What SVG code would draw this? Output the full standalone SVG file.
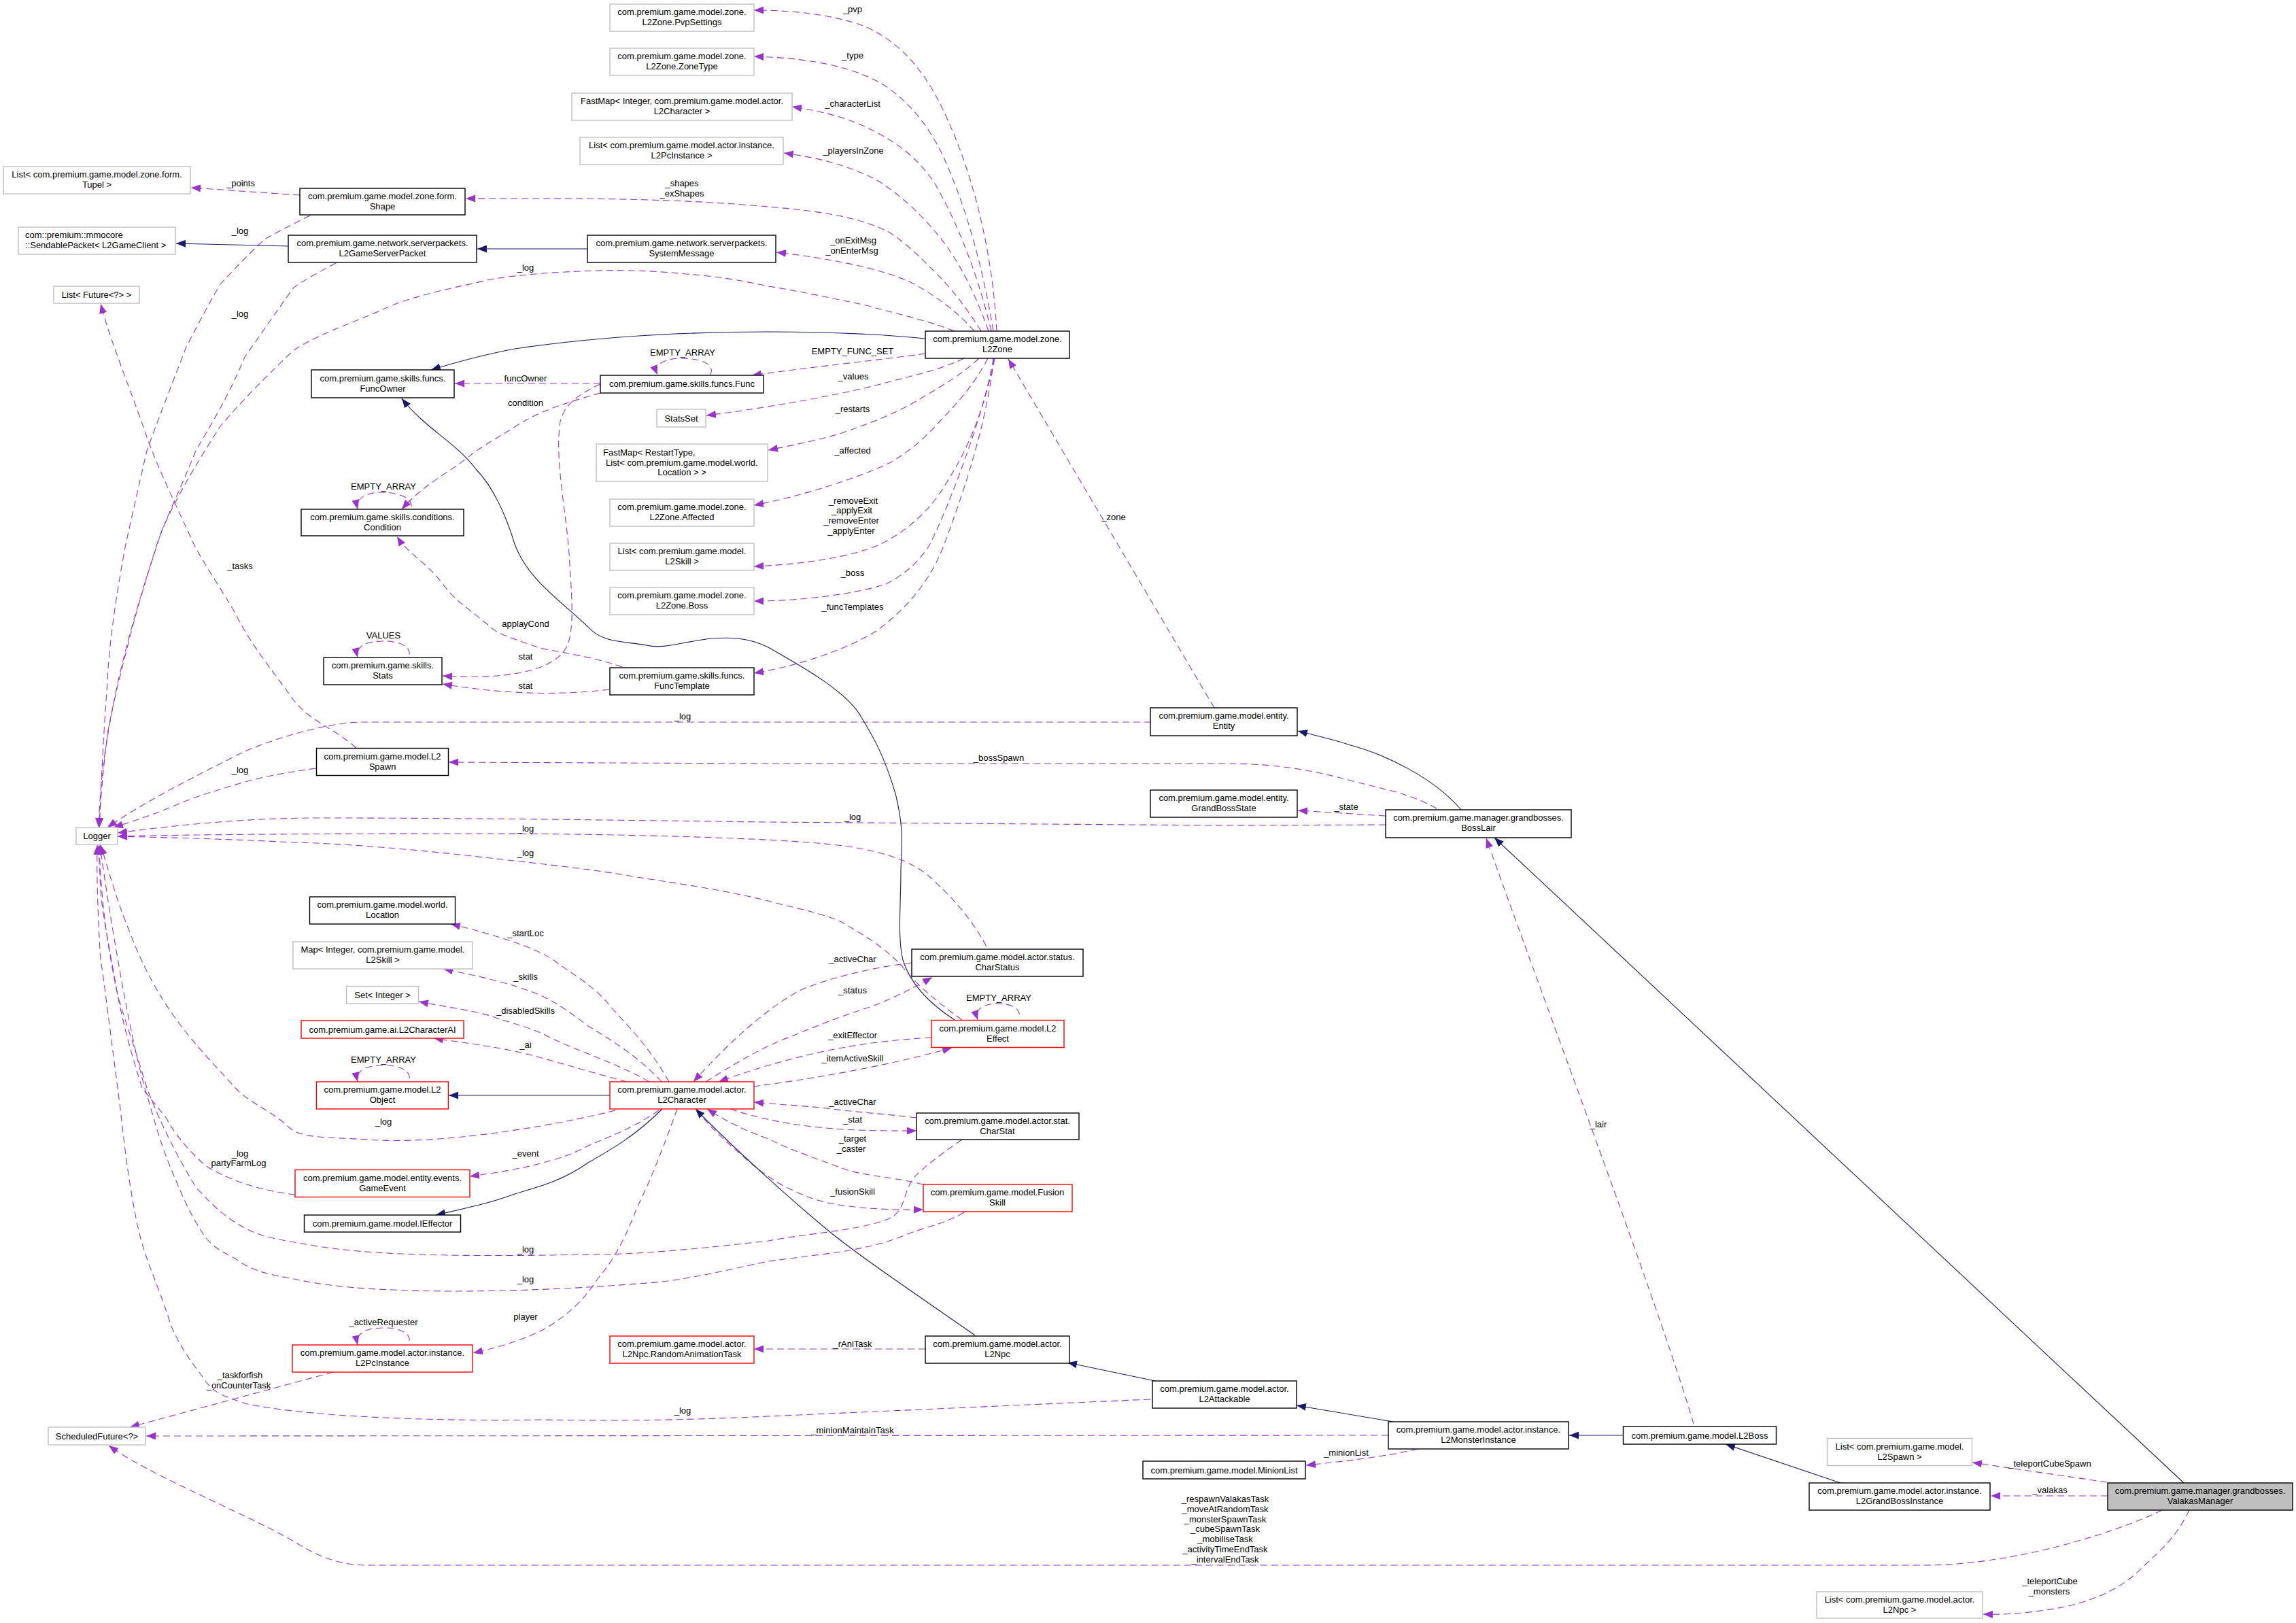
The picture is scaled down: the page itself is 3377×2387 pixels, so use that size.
<svg xmlns="http://www.w3.org/2000/svg" width="3377" height="2387" viewBox="0 0 3377 2387">
<style>
text{font-family:"Liberation Sans",Arial,Helvetica,sans-serif;font-size:13px;text-anchor:middle;fill:#000}
.n rect{fill:#fff;stroke-width:1.4}
.k rect{stroke:#000}
.g rect{stroke:#bfbfbf}
.r rect{stroke:#f00}
.f rect{fill:#bfbfbf;stroke:#000}
.d{fill:none;stroke:#9a32cd;stroke-width:1.1;stroke-dasharray:10 6;marker-end:url(#ap)}
.s{fill:none;stroke:#191970;stroke-width:1.1;marker-end:url(#an)}
.l{text-anchor:start}
</style>
<defs>
<marker id="ap" viewBox="0 0 14 11" refX="14" refY="5.5" markerWidth="14" markerHeight="11" markerUnits="userSpaceOnUse" orient="auto"><path d="M0,0L14,5.5L0,11z" fill="#9a32cd"/></marker>
<marker id="an" viewBox="0 0 14 11" refX="14" refY="5.5" markerWidth="14" markerHeight="11" markerUnits="userSpaceOnUse" orient="auto"><path d="M0,0L14,5.5L0,11z" fill="#191970"/></marker>
</defs>
<rect width="3377" height="2387" fill="#fff"/>
<g id="connectors">
<path class="d" d="M1466,487C1460,370 1430,240 1375,138C1345,85 1310,55 1270,38C1225,22 1170,15 1109,15"/>
<path class="d" d="M1461,487C1445,390 1420,300 1385,225C1360,175 1330,145 1300,125C1250,95 1180,85 1109,83"/>
<path class="d" d="M1458,487C1440,410 1410,330 1375,270C1345,225 1310,205 1280,190C1245,172 1205,163 1165,157"/>
<path class="d" d="M1454,487C1430,420 1405,375 1375,340C1345,305 1320,285 1295,268C1255,245 1205,232 1153,225"/>
<path class="d" d="M1443,487C1420,450 1400,425 1375,400C1350,375 1330,355 1305,340C1260,318 1200,310 1130,304C1000,292 850,291 685,292"/>
<path class="d" d="M1433,487C1405,455 1375,435 1345,418C1300,395 1220,380 1142,371"/>
<path class="d" d="M1404,487C1360,470 1320,462 1274,449C1220,438 1175,428 1130,421C1090,412 1050,406 1009,403C960,398 920,397 879,398C820,400 770,403 721,411C670,423 620,432 577,449C520,475 470,490 432,515C395,550 355,590 324,627C290,680 260,730 238,780C215,850 200,900 187,953C175,1000 165,1040 158,1080C152,1130 148,1170 146,1217"/>
<path class="d" d="M456,317C430,330 410,340 389,352C365,375 345,395 324,418C305,450 290,480 274,510C255,560 235,610 216,663C205,710 195,755 185,800C170,880 160,950 158,1004C152,1080 149,1150 146,1217"/>
<path class="d" d="M494,387C470,400 450,410 432,423C405,460 385,490 360,525C335,585 310,625 288,663C265,720 245,760 231,800C212,860 198,905 187,948C170,1010 158,1080 151,1131C148,1160 146,1190 145,1217"/>
<path class="s" d="M1361,498C1290,491 1200,488 1130,488C1000,488 880,495 757,513C720,520 680,530 634,544"/>
<path class="d" d="M1361,520C1290,530 1190,540 1106,552"/>
<path class="d" d="M1418,527C1380,545 1340,553 1310,561C1250,578 1130,600 1039,611"/>
<path class="d" d="M1440,527C1415,550 1390,565 1361,582C1320,608 1280,622 1238,637C1200,648 1165,655 1130,662"/>
<path class="d" d="M1453,527C1430,570 1410,590 1382,620C1355,650 1335,665 1310,680C1270,700 1180,730 1109,743"/>
<path class="d" d="M1463,527C1450,590 1430,650 1395,705C1370,750 1335,780 1296,800C1250,820 1180,830 1109,833"/>
<path class="d" d="M1461,527C1450,600 1400,735 1368,800C1350,830 1325,848 1303,859C1260,873 1180,884 1109,884"/>
<path class="d" d="M1462,527C1450,630 1415,730 1389,800C1370,850 1340,890 1289,928C1240,958 1170,980 1109,990"/>
<path class="d" d="M1786,1041L1483,528"/>
<path class="d" d="M441,287L281,276"/>
<path class="s" d="M424,362L259,358"/>
<path class="s" d="M864,366L702,366"/>
<path class="d" d="M1045,551C1052,535 1030,527 1002,527C980,527 960,535 967,551"/>
<path class="d" d="M883,564L669,564"/>
<path class="d" d="M883,578C840,590 790,605 757,628C730,645 710,655 685,675C660,695 620,715 591,749"/>
<path class="d" d="M883,565C850,580 830,595 824,620C815,680 835,760 838,830C842,890 845,940 829,958C805,990 735,999 651,994"/>
<path class="d" d="M605,745C606,732 585,724 562,724C540,724 522,732 526,749"/>
<path class="d" d="M602,963C604,950 585,942 562,943C540,943 522,950 526,967"/>
<path class="d" d="M896,1014C840,1021 760,1024 651,1006"/>
<path class="d" d="M915,981C880,968 830,960 793,953C760,940 735,935 721,922C690,895 670,885 649,856C625,825 600,815 584,789"/>
<path class="d" d="M524,1100C490,1070 455,1060 432,1030C400,985 370,950 346,902C325,865 300,830 285,800C260,745 235,695 216,643C195,580 165,510 148,447"/>
<path class="d" d="M465,1130C420,1136 390,1142 360,1150C320,1162 285,1172 252,1187C220,1200 195,1208 167,1217"/>
<path class="d" d="M1693,1062L533,1062C490,1062 420,1080 360,1105C300,1135 210,1180 158,1217"/>
<path class="s" d="M2149,1191C2110,1145 2040,1110 1983,1095C1960,1087 1935,1082 1909,1075"/>
<path class="d" d="M2113,1189C2070,1165 2030,1160 1983,1147C1930,1133 1880,1123 1800,1123L1130,1123L660,1121"/>
<path class="d" d="M2038,1200L1909,1192"/>
<path class="d" d="M2038,1213L1804,1214L1130,1209C950,1207 720,1203 468,1203C370,1203 270,1212 173,1225"/>
<path class="s" d="M1404,1500C1370,1478 1340,1450 1328,1412C1320,1380 1325,1330 1325,1280C1326,1240 1330,1220 1317,1167C1300,1110 1285,1085 1267,1055C1245,1015 1170,975 1130,952C1095,935 1065,938 1045,939C1000,945 975,955 951,949C915,943 885,945 865,922C820,880 775,850 757,800C745,760 725,715 700,690C670,650 625,630 591,586"/>
<path class="d" d="M1451,1392C1425,1345 1400,1320 1368,1290C1340,1265 1290,1247 1202,1240C1110,1232 900,1226 700,1226C500,1226 300,1227 173,1230"/>
<path class="d" d="M1415,1500C1380,1475 1350,1450 1330,1425C1300,1390 1260,1370 1238,1356C1200,1340 1165,1335 1130,1325C1060,1308 1000,1300 937,1290C870,1278 790,1270 721,1262C620,1250 500,1240 432,1239C340,1234 250,1232 173,1230"/>
<path class="d" d="M1499,1492C1500,1483 1485,1476 1469,1476C1450,1476 1432,1482 1438,1500"/>
<path class="d" d="M1038,1591C1080,1565 1120,1540 1167,1523C1210,1505 1250,1490 1283,1480C1320,1465 1350,1450 1371,1437"/>
<path class="d" d="M1341,1416C1290,1422 1230,1435 1180,1455C1130,1480 1070,1535 1020,1591"/>
<path class="d" d="M1370,1526C1330,1528 1280,1533 1233,1542C1180,1552 1120,1568 1057,1591"/>
<path class="d" d="M1108,1598C1170,1590 1290,1572 1400,1541"/>
<path class="d" d="M1348,1644C1300,1638 1260,1636 1216,1630C1180,1626 1150,1625 1109,1621"/>
<path class="d" d="M1074,1631C1160,1660 1250,1664 1348,1663"/>
<path class="d" d="M1358,1742C1310,1730 1270,1730 1238,1718C1190,1700 1160,1690 1130,1675C1090,1660 1070,1650 1040,1631"/>
<path class="d" d="M1025,1632C1045,1660 1075,1685 1100,1707C1130,1732 1150,1745 1183,1758C1220,1775 1290,1780 1358,1779"/>
<path class="s" d="M1434,1964C1360,1912 1260,1845 1216,1808C1170,1770 1080,1690 1023,1631"/>
<path class="d" d="M984,1591C955,1540 925,1510 901,1484C875,1450 845,1435 814,1412C790,1395 730,1375 663,1359"/>
<path class="d" d="M973,1591C940,1555 900,1530 865,1509C840,1490 820,1475 793,1463C750,1445 700,1435 652,1425"/>
<path class="d" d="M955,1591C910,1565 860,1550 807,1525C780,1510 750,1505 721,1494C690,1485 650,1480 616,1473"/>
<path class="d" d="M922,1591C880,1580 830,1565 793,1555C740,1540 690,1535 638,1527"/>
<path class="s" d="M897,1611L660,1611"/>
<path class="d" d="M602,1586C604,1574 585,1566 562,1567C540,1567 522,1574 526,1591"/>
<path class="d" d="M905,1633C840,1650 660,1685 540,1676C480,1672 445,1675 425,1658C395,1630 370,1625 346,1600C310,1560 280,1530 252,1489C225,1450 205,1410 187,1361C170,1320 160,1280 148,1243"/>
<path class="d" d="M434,1757C390,1752 345,1740 303,1715C275,1690 255,1665 245,1645C230,1625 220,1615 209,1600C190,1540 180,1500 173,1463C160,1390 150,1340 148,1310L145,1243"/>
<path class="d" d="M969,1633C930,1660 900,1670 865,1685C830,1705 770,1720 691,1730"/>
<path class="s" d="M974,1631C935,1670 900,1690 865,1710C830,1735 795,1745 757,1756C720,1770 680,1778 641,1787"/>
<path class="d" d="M1415,1676C1380,1700 1355,1720 1346,1730C1325,1755 1335,1785 1300,1795C1260,1810 1180,1815 1130,1825C1040,1835 950,1845 865,1845C760,1847 570,1850 468,1833C420,1825 385,1820 360,1806C330,1790 310,1770 288,1746C260,1700 235,1650 216,1600C195,1530 180,1490 173,1463C155,1380 148,1310 146,1243"/>
<path class="d" d="M1418,1783C1390,1800 1360,1805 1332,1816C1300,1830 1270,1835 1238,1841L1130,1855C1060,1870 1000,1885 937,1888C830,1897 680,1902 577,1897C520,1895 475,1890 432,1881C400,1875 370,1870 346,1851C325,1840 315,1835 303,1821C275,1780 265,1750 252,1720C235,1680 225,1640 213,1600C190,1520 160,1340 147,1243"/>
<path class="d" d="M1692,2058L1130,2083C1000,2089 900,2090 793,2088C700,2090 470,2088 360,2064C335,2055 315,2050 303,2032C280,2000 270,1990 252,1951C230,1880 215,1860 202,1801C185,1720 180,1650 173,1600C160,1500 150,1420 148,1412C144,1350 142,1290 143,1243"/>
<path class="d" d="M996,1631C975,1690 955,1740 937,1776C920,1820 905,1850 879,1881C860,1910 840,1930 807,1951C770,1972 730,1982 696,1990"/>
<path class="d" d="M602,1972C604,1960 585,1952 562,1953C540,1953 522,1960 526,1978"/>
<path class="d" d="M490,2018L191,2099"/>
<path class="d" d="M1361,1984L1109,1984"/>
<path class="s" d="M1699,2031L1570,2004"/>
<path class="s" d="M2049,2091L1907,2067"/>
<path class="d" d="M2042,2111L215,2112"/>
<path class="d" d="M2085,2131C2050,2140 1990,2148 1921,2155"/>
<path class="s" d="M2387,2111L2308,2111"/>
<path class="d" d="M2491,2094C2440,1920 2270,1470 2186,1233"/>
<path class="s" d="M2707,2181C2680,2172 2630,2155 2538,2124"/>
<path class="s" d="M3212,2181L2198,1232"/>
<path class="d" d="M3099,2180L2901,2151"/>
<path class="d" d="M3100,2200L2928,2200"/>
<path class="d" d="M3180,2221C3110,2255 2960,2302 2830,2302L540,2302C495,2302 465,2287 432,2267C370,2230 220,2170 160,2126"/>
<path class="d" d="M3220,2221C3200,2262 3178,2280 3150,2306C3120,2338 3070,2360 3008,2368C2975,2373 2945,2375 2917,2374"/>
</g>
<g id="edge-labels">
<text x="354" y="274">_points</text>
<text x="1003" y="274">_shapes</text><text x="1003" y="289">_exShapes</text>
<text x="353" y="344">_log</text>
<text x="773" y="398">_log</text>
<text x="353" y="466">_log</text>
<text x="1004" y="523">EMPTY_ARRAY</text>
<text x="773" y="561">funcOwner</text>
<text x="773" y="597">condition</text>
<text x="564" y="720">EMPTY_ARRAY</text>
<text x="1254" y="18">_pvp</text>
<text x="1254" y="86">_type</text>
<text x="1254" y="157">_characterList</text>
<text x="1255" y="226">_playersInZone</text>
<text x="1255" y="358">_onExitMsg</text><text x="1253" y="373">_onEnterMsg</text>
<text x="1254" y="521">EMPTY_FUNC_SET</text>
<text x="1255" y="558">_values</text>
<text x="1254" y="606">_restarts</text>
<text x="1254" y="667">_affected</text>
<text x="1255" y="741">_removeExit</text><text x="1253" y="755">_applyExit</text><text x="1252" y="770">_removeEnter</text><text x="1252" y="785">_applyEnter</text>
<text x="1638" y="765">_zone</text>
<text x="353" y="837">_tasks</text>
<text x="773" y="922">applayCond</text>
<text x="564" y="939">VALUES</text>
<text x="773" y="970">stat</text>
<text x="773" y="1013">stat</text>
<text x="1004" y="1058">_log</text>
<text x="353" y="1137">_log</text>
<text x="773" y="1223">_log</text>
<text x="773" y="1259">_log</text>
<text x="773" y="1377">_startLoc</text>
<text x="773" y="1441">_skills</text>
<text x="773" y="1491">_disabledSkills</text>
<text x="773" y="1541">_ai</text>
<text x="564" y="1563">EMPTY_ARRAY</text>
<text x="1254" y="847">_boss</text>
<text x="1254" y="897">_funcTemplates</text>
<text x="1469" y="1119">_bossSpawn</text>
<text x="1980" y="1191">_state</text>
<text x="1254" y="1206">_log</text>
<text x="1254" y="1415">_activeChar</text>
<text x="1254" y="1461">_status</text>
<text x="1469" y="1472">EMPTY_ARRAY</text>
<text x="1254" y="1527">_exitEffector</text>
<text x="1254" y="1561">_itemActiveSkill</text>
<text x="564" y="1654">_log</text>
<text x="353" y="1701">_log</text><text x="351" y="1715">partyFarmLog</text>
<text x="773" y="1701">_event</text>
<text x="773" y="1842">_log</text>
<text x="773" y="1886">_log</text>
<text x="773" y="1941">player</text>
<text x="564" y="1949">_activeRequester</text>
<text x="353" y="2027">_taskforfish</text><text x="351" y="2042">_onCounterTask</text>
<text x="1004" y="2079">_log</text>
<text x="1254" y="1625">_activeChar</text>
<text x="1254" y="1651">_stat</text>
<text x="1254" y="1679">_target</text><text x="1252" y="1694">_caster</text>
<text x="1254" y="1757">_fusionSkill</text>
<text x="1254" y="1981">_rAniTask</text>
<text x="1254" y="2108">_minionMaintainTask</text>
<text x="1980" y="2141">_minionList</text>
<text x="1802" y="2209">_respawnValakasTask</text><text x="1802" y="2224">_moveAtRandomTask</text><text x="1802" y="2239">_monsterSpawnTask</text><text x="1802" y="2253">_cubeSpawnTask</text><text x="1802" y="2268">_mobiliseTask</text><text x="1802" y="2283">_activityTimeEndTask</text><text x="1802" y="2298">_intervalEndTask</text>
<text x="2351" y="1658">_lair</text>
<text x="3015" y="2157">_teleportCubeSpawn</text>
<text x="3015" y="2196">_valakas</text>
<text x="3015" y="2330">_teleportCube</text><text x="3014" y="2345">_monsters</text>
</g>
<g id="n-pvp" class="n g"><rect x="897" y="6" width="212" height="40"/><text x="1003" y="22">com.premium.game.model.zone.</text><text x="1003" y="37">L2Zone.PvpSettings</text></g>
<g id="n-zonetype" class="n g"><rect x="897" y="71" width="212" height="40"/><text x="1003" y="87">com.premium.game.model.zone.</text><text x="1003" y="102">L2Zone.ZoneType</text></g>
<g id="n-fastmap" class="n g"><rect x="841" y="137" width="324" height="40"/><text x="1003" y="153">FastMap&lt; Integer, com.premium.game.model.actor.</text><text x="1003" y="168">L2Character &gt;</text></g>
<g id="n-listpc" class="n g"><rect x="853" y="202" width="299" height="40"/><text x="1002.5" y="218">List&lt; com.premium.game.model.actor.instance.</text><text x="1002.5" y="233">L2PcInstance &gt;</text></g>
<g id="n-shape" class="n k"><rect x="441" y="277" width="243" height="39"/><text x="562.5" y="292.5">com.premium.game.model.zone.form.</text><text x="562.5" y="307.5">Shape</text></g>
<g id="n-tupel" class="n g"><rect x="5" y="245" width="275" height="40"/><text x="142.5" y="261">List&lt; com.premium.game.model.zone.form.</text><text x="142.5" y="276">Tupel &gt;</text></g>
<g id="n-sendable" class="n g"><rect x="27" y="334" width="231" height="40"/><text class="l" x="37" y="350">com::premium::mmocore</text><text class="l" x="37" y="365">::SendablePacket&lt; L2GameClient &gt;</text></g>
<g id="n-packet" class="n k"><rect x="424" y="346" width="277" height="40"/><text x="562.5" y="362">com.premium.game.network.serverpackets.</text><text x="562.5" y="377">L2GameServerPacket</text></g>
<g id="n-system" class="n k"><rect x="864" y="346" width="277" height="40"/><text x="1002.5" y="362">com.premium.game.network.serverpackets.</text><text x="1002.5" y="377">SystemMessage</text></g>
<g id="n-future" class="n g"><rect x="79" y="421" width="126" height="25"/><text x="142" y="438">List&lt; Future&lt;?&gt; &gt;</text></g>
<g id="n-funcowner" class="n k"><rect x="458" y="544" width="210" height="41"/><text x="563" y="560.5">com.premium.game.skills.funcs.</text><text x="563" y="575.5">FuncOwner</text></g>
<g id="n-func" class="n k"><rect x="883" y="552" width="240" height="26"/><text x="1003" y="569">com.premium.game.skills.funcs.Func</text></g>
<g id="n-statsset" class="n g"><rect x="966" y="602" width="72" height="26"/><text x="1002" y="620">StatsSet</text></g>
<g id="n-restart" class="n g"><rect x="877" y="653" width="252" height="55"/><text class="l" x="887" y="669.5">FastMap&lt; RestartType,</text><text class="l" x="891" y="684.5">List&lt; com.premium.game.model.world.</text><text x="1003" y="699">Location &gt; &gt;</text></g>
<g id="n-affected" class="n g"><rect x="897" y="734" width="212" height="40"/><text x="1003" y="750">com.premium.game.model.zone.</text><text x="1003" y="765">L2Zone.Affected</text></g>
<g id="n-skill" class="n g"><rect x="897" y="799" width="212" height="40"/><text x="1003" y="815">List&lt; com.premium.game.model.</text><text x="1003" y="830">L2Skill &gt;</text></g>
<g id="n-boss" class="n g"><rect x="897" y="864" width="212" height="40"/><text x="1003" y="880">com.premium.game.model.zone.</text><text x="1003" y="895">L2Zone.Boss</text></g>
<g id="n-condition" class="n k"><rect x="443" y="749" width="239" height="39"/><text x="562.5" y="764.5">com.premium.game.skills.conditions.</text><text x="562.5" y="779.5">Condition</text></g>
<g id="n-zone" class="n k"><rect x="1361" y="487" width="212" height="40"/><text x="1467" y="503">com.premium.game.model.zone.</text><text x="1467" y="518">L2Zone</text></g>
<g id="n-stats" class="n k"><rect x="476" y="967" width="174" height="40"/><text x="563" y="983">com.premium.game.skills.</text><text x="563" y="998">Stats</text></g>
<g id="n-functemplate" class="n k"><rect x="897" y="982" width="212" height="40"/><text x="1003" y="998">com.premium.game.skills.funcs.</text><text x="1003" y="1013">FuncTemplate</text></g>
<g id="n-spawn" class="n k"><rect x="465.5" y="1100.5" width="194" height="40"/><text x="562.5" y="1116.5">com.premium.game.model.L2</text><text x="562.5" y="1131.5">Spawn</text></g>
<g id="n-logger" class="n g"><rect x="112" y="1217" width="61" height="25"/><text x="142.5" y="1234">Logger</text></g>
<g id="n-location" class="n k"><rect x="455.5" y="1319" width="214" height="40"/><text x="562.5" y="1335">com.premium.game.model.world.</text><text x="562.5" y="1350">Location</text></g>
<g id="n-map" class="n g"><rect x="431" y="1385" width="264" height="40"/><text x="563" y="1401">Map&lt; Integer, com.premium.game.model.</text><text x="563" y="1416">L2Skill &gt;</text></g>
<g id="n-set" class="n g"><rect x="509.5" y="1450.5" width="106" height="25.5"/><text x="562.5" y="1468">Set&lt; Integer &gt;</text></g>
<g id="n-ai" class="n r"><rect x="443" y="1501" width="239" height="26"/><text x="562.5" y="1518.5">com.premium.game.ai.L2CharacterAI</text></g>
<g id="n-object" class="n r"><rect x="465.5" y="1591" width="194" height="40"/><text x="562.5" y="1607">com.premium.game.model.L2</text><text x="562.5" y="1622">Object</text></g>
<g id="n-character" class="n r"><rect x="897" y="1591" width="212" height="40"/><text x="1003" y="1607">com.premium.game.model.actor.</text><text x="1003" y="1622">L2Character</text></g>
<g id="n-gameevent" class="n r"><rect x="434" y="1720.5" width="257" height="40"/><text x="562.5" y="1736.5">com.premium.game.model.entity.events.</text><text x="562.5" y="1751.5">GameEvent</text></g>
<g id="n-ieffector" class="n k"><rect x="447.5" y="1787" width="230" height="25"/><text x="562.5" y="1804">com.premium.game.model.IEffector</text></g>
<g id="n-pc" class="n r"><rect x="430" y="1978" width="265" height="40"/><text x="562.5" y="1994">com.premium.game.model.actor.instance.</text><text x="562.5" y="2009">L2PcInstance</text></g>
<g id="n-random" class="n r"><rect x="897" y="1965" width="212" height="40"/><text x="1003" y="1981">com.premium.game.model.actor.</text><text x="1003" y="1996">L2Npc.RandomAnimationTask</text></g>
<g id="n-sf" class="n g"><rect x="71" y="2099" width="143" height="26"/><text x="142.5" y="2116.5">ScheduledFuture&lt;?&gt;</text></g>
<g id="n-entity" class="n k"><rect x="1692" y="1041" width="216" height="41"/><text x="1800" y="1057">com.premium.game.model.entity.</text><text x="1800" y="1072">Entity</text></g>
<g id="n-gbs" class="n k"><rect x="1692" y="1162" width="216" height="40"/><text x="1800" y="1178">com.premium.game.model.entity.</text><text x="1800" y="1193">GrandBossState</text></g>
<g id="n-bosslair" class="n k"><rect x="2038" y="1191" width="273" height="41"/><text x="2174.5" y="1207">com.premium.game.manager.grandbosses.</text><text x="2174.5" y="1222">BossLair</text></g>
<g id="n-charstatus" class="n k"><rect x="1341" y="1396" width="252" height="40"/><text x="1467" y="1412">com.premium.game.model.actor.status.</text><text x="1467" y="1427">CharStatus</text></g>
<g id="n-effect" class="n r"><rect x="1370" y="1500.5" width="195" height="40"/><text x="1467.5" y="1516.5">com.premium.game.model.L2</text><text x="1467.5" y="1531.5">Effect</text></g>
<g id="n-charstat" class="n k"><rect x="1348" y="1637" width="239" height="39"/><text x="1467" y="1652.5">com.premium.game.model.actor.stat.</text><text x="1467" y="1667.5">CharStat</text></g>
<g id="n-fusion" class="n r"><rect x="1358" y="1742" width="219" height="40"/><text x="1467" y="1758">com.premium.game.model.Fusion</text><text x="1467" y="1773">Skill</text></g>
<g id="n-npc" class="n k"><rect x="1361" y="1965" width="212" height="40"/><text x="1467" y="1981">com.premium.game.model.actor.</text><text x="1467" y="1996">L2Npc</text></g>
<g id="n-attackable" class="n k"><rect x="1695" y="2031" width="212" height="40"/><text x="1801" y="2047">com.premium.game.model.actor.</text><text x="1801" y="2062">L2Attackable</text></g>
<g id="n-monster" class="n k"><rect x="2042" y="2091" width="265" height="40"/><text x="2174.5" y="2107">com.premium.game.model.actor.instance.</text><text x="2174.5" y="2122">L2MonsterInstance</text></g>
<g id="n-minion" class="n k"><rect x="1681" y="2149" width="239" height="26"/><text x="1800.5" y="2166.5">com.premium.game.model.MinionList</text></g>
<g id="n-l2boss" class="n k"><rect x="2387.5" y="2098" width="225" height="26"/><text x="2500" y="2115.5">com.premium.game.model.L2Boss</text></g>
<g id="n-grand" class="n k"><rect x="2661" y="2181" width="266" height="40"/><text x="2794" y="2197">com.premium.game.model.actor.instance.</text><text x="2794" y="2212">L2GrandBossInstance</text></g>
<g id="n-listspawn" class="n g"><rect x="2687.5" y="2115.5" width="213" height="40"/><text x="2794" y="2131.5">List&lt; com.premium.game.model.</text><text x="2794" y="2146.5">L2Spawn &gt;</text></g>
<g id="n-valakas" class="n f"><rect x="3100" y="2181" width="272" height="40"/><text x="3236" y="2197">com.premium.game.manager.grandbosses.</text><text x="3236" y="2212">ValakasManager</text></g>
<g id="n-listnpc" class="n g"><rect x="2672" y="2341" width="244" height="39"/><text x="2794" y="2356.5">List&lt; com.premium.game.model.actor.</text><text x="2794" y="2371.5">L2Npc &gt;</text></g>
</svg>
